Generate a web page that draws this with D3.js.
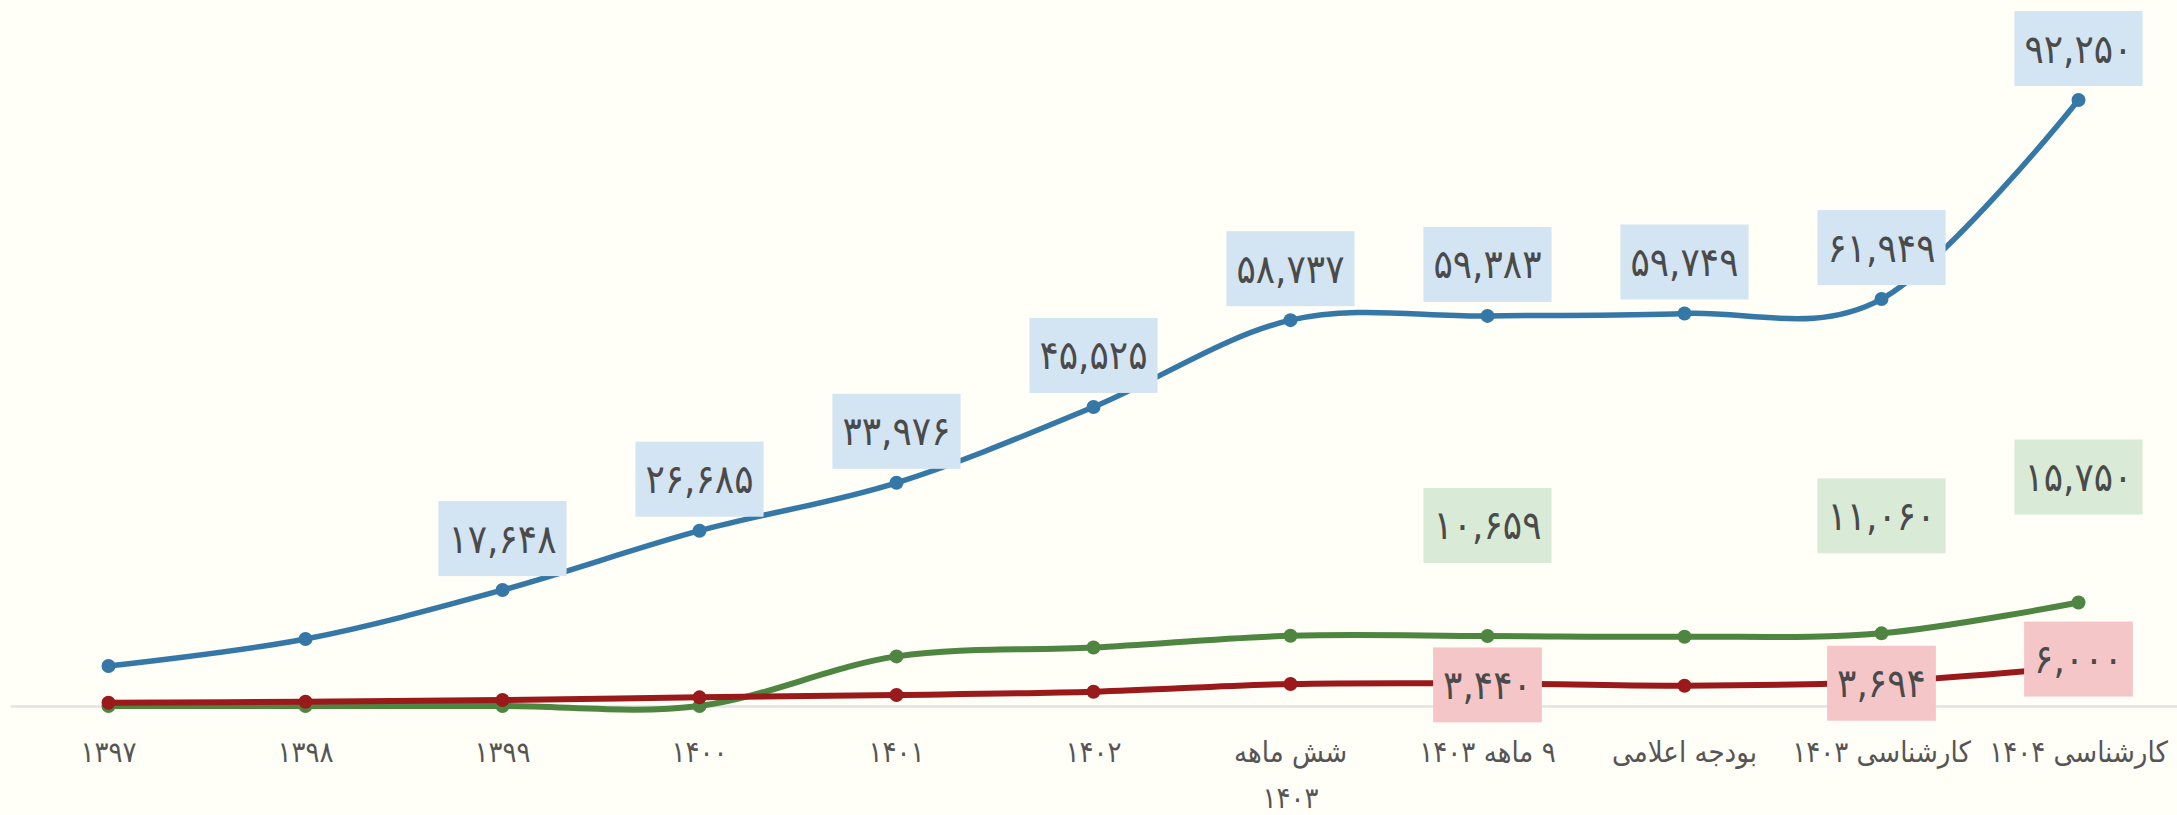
<!DOCTYPE html>
<html><head><meta charset="utf-8">
<script src="https://cdn.jsdelivr.net/npm/d3@7"></script>
<style>
html,body{margin:0;padding:0;background:#fffef7;}
svg{display:block;}
</style></head>
<body><svg id="chart" width="2177" height="815"></svg>
<script>
// ---- data ----
const categories = ["۱۳۹۷","۱۳۹۸","۱۳۹۹","۱۴۰۰","۱۴۰۱","۱۴۰۲","شش ماهه\n۱۴۰۳","۹ ماهه ۱۴۰۳","بودجه اعلامی","کارشناسی ۱۴۰۳","کارشناسی ۱۴۰۴"];
const blueValues  = [6090, 10200, 17648, 26685, 33976, 45525, 58737, 59383, 59749, 61949, 92250];
const greenValues = [0, 0, 0, 0, 7550, 8900, 10700, 10659, 10550, 11060, 15750];
const redValues   = [500, 650, 910, 1320, 1670, 2180, 3350, 3440, 3090, 3694, 6000];
const blueLabeled  = [2,3,4,5,6,7,8,9,10];
const greenLabeled = [7,9,10];
const redLabeled   = [7,9,10];

// ---- layout ----
const W = 2177, H = 815;
const svg = d3.select("#chart");
svg.append("rect").attr("width",W).attr("height",H).attr("fill","#fffef7");

const x = d3.scaleBand().domain(categories).range([10, 2177]).padding(0);
const cx = c => x(c) + x.bandwidth()/2;
const y = d3.scaleLinear().domain([0, 92250]).range([706, 100]);

const FONT = "'DejaVu Sans Condensed','DejaVu Sans',sans-serif";
const toFa = s => s.replace(/[0-9]/g, d => "۰۱۲۳۴۵۶۷۸۹"[+d]);
const fmt = v => toFa(d3.format(",")(v));

// baseline (x axis line)
const xAxis = d3.axisBottom(x).tickSize(0).tickFormat("");
const gx = svg.append("g").attr("transform","translate(0,706)").call(xAxis);
gx.select(".domain").attr("stroke","#e3e3e3").attr("stroke-width",2.5);

// axis labels
categories.forEach(c => {
  const lines = c.split("\n");
  const t = svg.append("text")
    .attr("x", cx(c)).attr("y", 762)
    .attr("text-anchor","middle").attr("direction","rtl")
    .attr("font-family", FONT).attr("font-size", 29).attr("fill","#555");
  lines.forEach((ln,i) => {
    t.append("tspan").attr("x", cx(c)).attr("dy", i===0?0:46).text(ln);
  });
});

const line = d3.line().x((d,i)=>cx(categories[i])).y(d=>y(d)).curve(d3.curveCardinal.tension(0));

const series = [
  {vals: greenValues, color:"#4e8540", width:6, r:7},
  {vals: redValues,   color:"#9a1a1c", width:6, r:7},
  {vals: blueValues,  color:"#3578a8", width:5.5, r:7}
];
series.forEach(s => {
  svg.append("path").attr("d", line(s.vals)).attr("fill","none")
    .attr("stroke", s.color).attr("stroke-width", s.width).attr("stroke-linecap","round");
  svg.append("g").selectAll("circle").data(s.vals).join("circle")
    .attr("cx",(d,i)=>cx(categories[i])).attr("cy", d=>y(d)).attr("r", s.r).attr("fill", s.color);
});

// labels
function addLabel(i, v, fill, centerY){
  const g = svg.append("g");
  const t = g.append("text").attr("x", cx(categories[i])).attr("y", centerY)
    .attr("text-anchor","middle").attr("dominant-baseline","central")
    .attr("font-family", FONT).attr("font-size", 40).attr("fill","#4a4a4a").text(fmt(v));
  const w = t.node().getComputedTextLength() + 20;
  g.insert("rect","text").attr("x", cx(categories[i]) - w/2).attr("y", centerY - 37.5)
    .attr("width", w).attr("height", 75).attr("fill", fill);
}
blueLabeled.forEach(i => addLabel(i, blueValues[i], "#d3e4f2", y(blueValues[i]) - 14 - 37.5));
const greenGap = {7: 73, 9: 80, 10: 88};
greenLabeled.forEach(i => addLabel(i, greenValues[i], "#d9ead6", y(greenValues[i]) - greenGap[i] - 37.5));
const redShift = {7: 1.5, 9: 1.5, 10: -7.5};
redLabeled.forEach(i => addLabel(i, redValues[i], "#f5c6c8", y(redValues[i]) + redShift[i]));
</script></body></html>
